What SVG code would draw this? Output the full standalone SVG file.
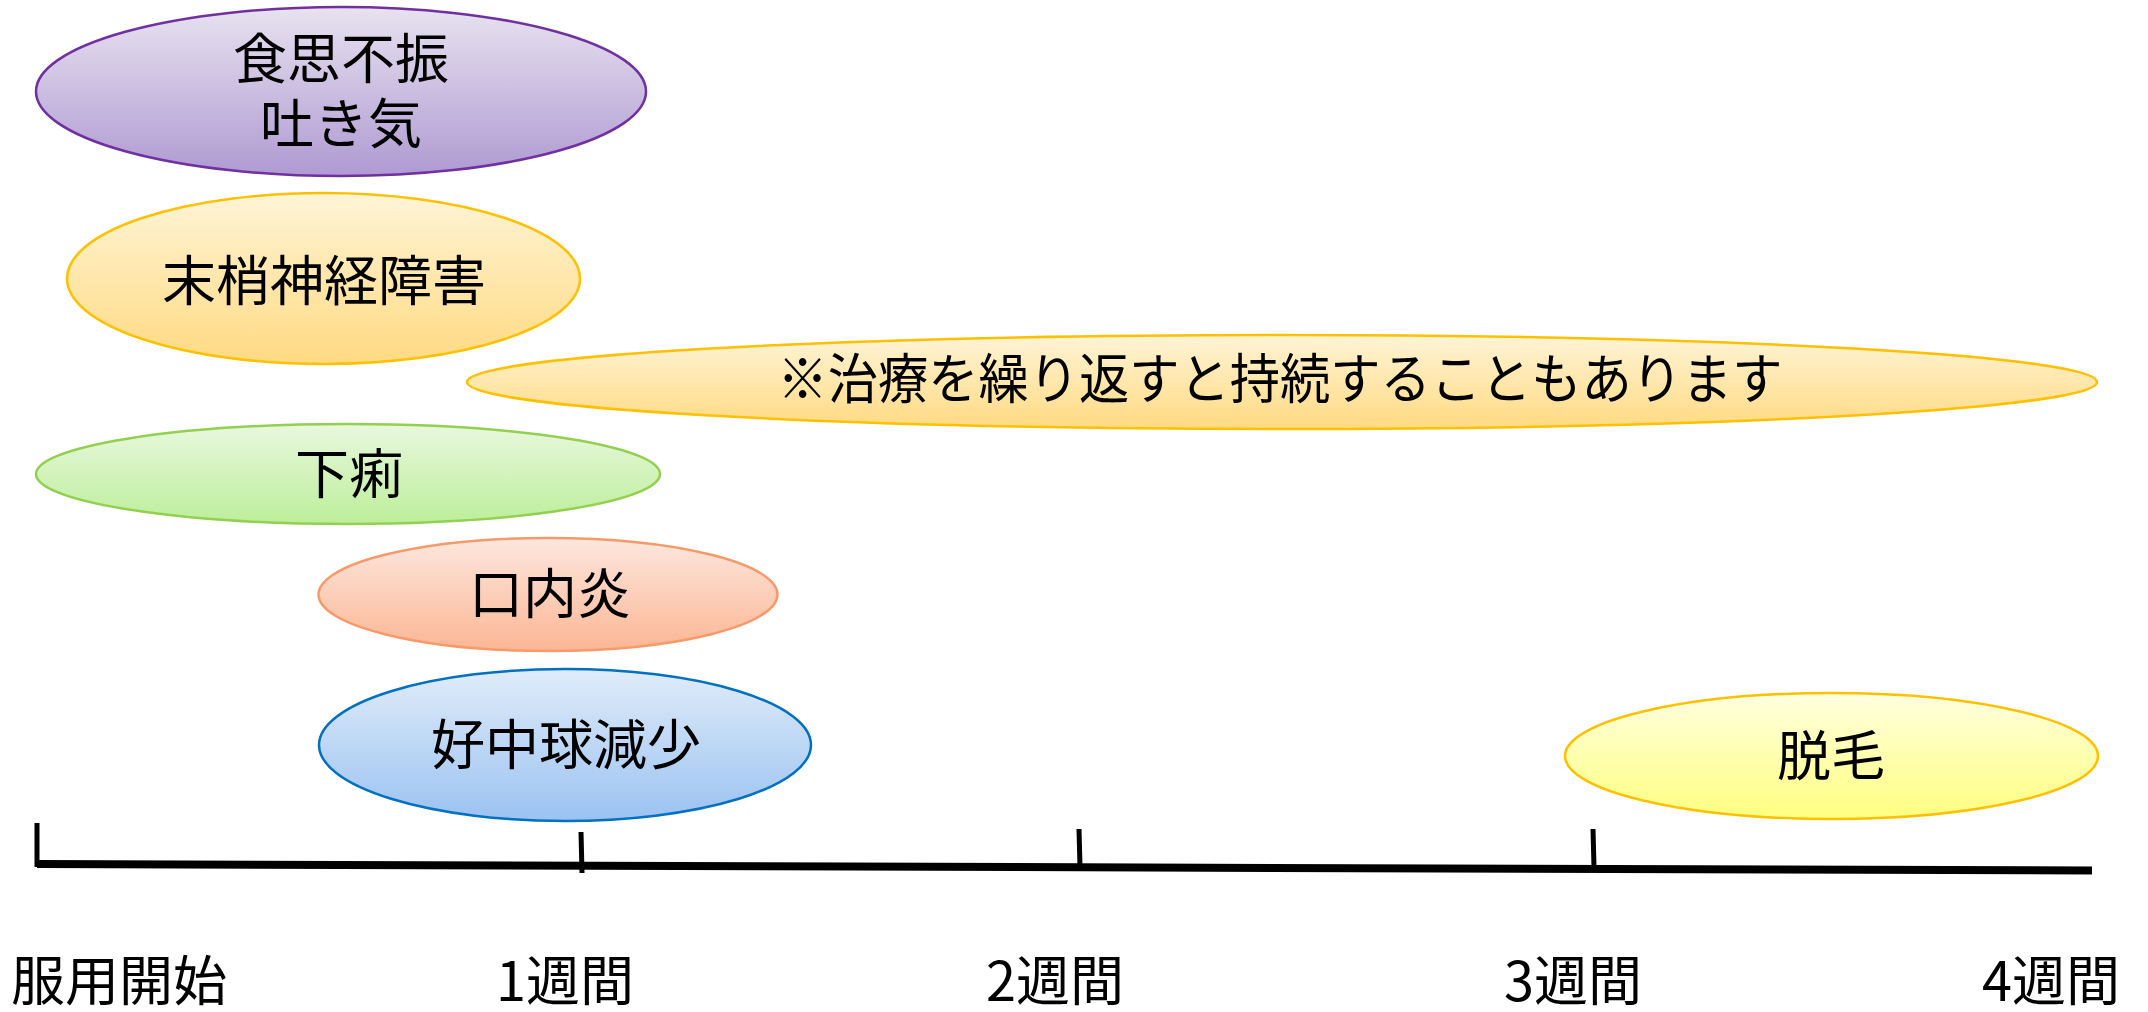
<svg xmlns="http://www.w3.org/2000/svg" width="2148" height="1012" viewBox="0 0 2148 1012">
<defs>
<linearGradient id="gPurple" x1="0" y1="0" x2="0" y2="1"><stop offset="0" stop-color="#E8E2F0"/><stop offset="1" stop-color="#AF9AD2"/></linearGradient>
<linearGradient id="gYellow" x1="0" y1="0" x2="0" y2="1"><stop offset="0" stop-color="#FFF4D6"/><stop offset="1" stop-color="#FFDA82"/></linearGradient>
<linearGradient id="gGreen" x1="0" y1="0" x2="0" y2="1"><stop offset="0" stop-color="#E8F8DE"/><stop offset="1" stop-color="#BDEE9A"/></linearGradient>
<linearGradient id="gSalmon" x1="0" y1="0" x2="0" y2="1"><stop offset="0" stop-color="#FDE7DE"/><stop offset="1" stop-color="#FBB694"/></linearGradient>
<linearGradient id="gBlue" x1="0" y1="0" x2="0" y2="1"><stop offset="0" stop-color="#E0ECF9"/><stop offset="1" stop-color="#9BC2F1"/></linearGradient>
<linearGradient id="gLightYellow" x1="0" y1="0" x2="0" y2="1"><stop offset="0" stop-color="#FFFFE0"/><stop offset="1" stop-color="#FFFF80"/></linearGradient>
</defs>
<style>
text{font-family:"Noto Sans CJK JP","Noto Sans CJK SC",sans-serif;fill:#000;}
.lbl{font-size:54px;text-anchor:middle;}
.ax{font-size:54px;}
ellipse{stroke-width:2.5;}
.axis{stroke:#000;fill:none;}
</style>
<g id="node-appetite">
<ellipse cx="341" cy="91.5" rx="305" ry="84.5" fill="url(#gPurple)" stroke="#7030A0"/>
<text class="lbl" x="341" y="79">食思不振</text>
<text class="lbl" x="341" y="144">吐き気</text>
</g>
<g id="node-neuropathy">
<ellipse cx="323.5" cy="278.5" rx="256.5" ry="85.5" fill="url(#gYellow)" stroke="#FFC000"/>
<text class="lbl" x="324" y="301">末梢神経障害</text>
</g>
<g id="node-note">
<ellipse cx="1282" cy="382" rx="815" ry="47" fill="url(#gYellow)" stroke="#FFC000"/>
<text class="lbl" x="1280" y="399" textLength="1005" lengthAdjust="spacingAndGlyphs">※治療を繰り返すと持続することもあります</text>
</g>
<g id="node-diarrhea">
<ellipse cx="348" cy="474" rx="312" ry="50" fill="url(#gGreen)" stroke="#92D050"/>
<text class="lbl" x="349" y="494">下痢</text>
</g>
<g id="node-stomatitis">
<ellipse cx="548" cy="594.5" rx="229.5" ry="56.5" fill="url(#gSalmon)" stroke="#F79A6A"/>
<text class="lbl" x="550" y="614">口内炎</text>
</g>
<g id="node-neutropenia">
<ellipse cx="565" cy="745" rx="246" ry="76" fill="url(#gBlue)" stroke="#0070C0"/>
<text class="lbl" x="566" y="765">好中球減少</text>
</g>
<g id="node-alopecia">
<ellipse cx="1831.5" cy="756" rx="266.5" ry="63" fill="url(#gLightYellow)" stroke="#FFC000"/>
<text class="lbl" x="1831" y="776">脱毛</text>
</g>
<g id="connectors">
<line class="axis" x1="37" y1="864" x2="2092" y2="870.5" stroke-width="8"/>
<line class="axis" x1="37" y1="823" x2="37" y2="867" stroke-width="5"/>
<line class="axis" x1="581" y1="832" x2="582" y2="873" stroke-width="5"/>
<line class="axis" x1="1079" y1="829" x2="1080" y2="867" stroke-width="5"/>
<line class="axis" x1="1593" y1="829" x2="1594" y2="867" stroke-width="5"/>
</g>
<g id="axis-labels">
<text class="ax" x="11" y="1001">服用開始</text>
<text class="ax" x="496" y="1001">1週間</text>
<text class="ax" x="986" y="1001">2週間</text>
<text class="ax" x="1504" y="1001">3週間</text>
<text class="ax" x="1982" y="1001">4週間</text>
</g>
</svg>
